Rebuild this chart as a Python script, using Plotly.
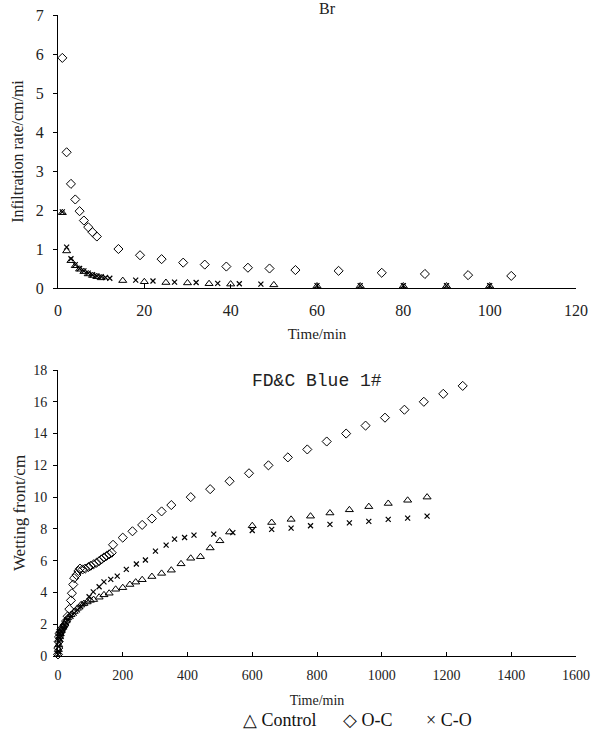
import plotly.graph_objects as go

# ---- Br (top panel) ----
br_t_control = [1, 2, 3, 4, 5, 6, 7, 8, 9, 10, 15, 20, 25, 30, 35, 40, 50, 60, 70, 80, 90, 100]
br_control = [1.93, 0.95, 0.70, 0.57, 0.48, 0.42, 0.36, 0.32, 0.29, 0.26, 0.19, 0.16, 0.14, 0.13,
              0.11, 0.10, 0.08, 0.05, 0.05, 0.05, 0.05, 0.05]
br_t_oc = [1, 2, 3, 4, 5, 6, 7, 8, 9, 14, 19, 24, 29, 34, 39, 44, 49, 55, 65, 75, 85, 95, 105]
br_oc = [5.90, 3.48, 2.67, 2.27, 1.97, 1.73, 1.56, 1.43, 1.32, 1.00, 0.84, 0.74, 0.65, 0.60,
         0.55, 0.52, 0.50, 0.46, 0.44, 0.39, 0.36, 0.33, 0.31]
br_t_co = [1, 2, 3, 4, 5, 6, 7, 8, 9, 10, 11, 12, 18, 22, 27, 32, 37, 42, 47, 60, 70, 80, 90, 100]
br_co = [1.95, 1.05, 0.75, 0.60, 0.50, 0.44, 0.38, 0.34, 0.31, 0.29, 0.27, 0.25, 0.20, 0.18,
         0.15, 0.14, 0.12, 0.11, 0.10, 0.06, 0.06, 0.06, 0.06, 0.06]

# ---- FD&C Blue 1# (bottom panel) ----
fd_t_control = [0, 1, 2, 3, 5, 7, 10, 15, 20, 25, 30, 40, 50, 60, 70, 80, 90, 100, 110, 127, 142,
                158, 178, 200, 222, 240, 260, 290, 320, 350, 380, 410, 440, 470, 500, 530, 600,
                660, 720, 780, 840, 900, 960, 1020, 1080, 1140]
fd_control = [0.1, 0.4, 0.7, 1.0, 1.2, 1.4, 1.6, 1.8, 2.0, 2.2, 2.4, 2.6, 2.8, 3.0, 3.2, 3.3, 3.4,
              3.5, 3.55, 3.7, 3.85, 3.95, 4.2, 4.3, 4.5, 4.65, 4.8, 5.0, 5.2, 5.4, 5.8, 6.15, 6.25,
              6.8, 7.25, 7.8, 8.2, 8.4, 8.6, 8.8, 9.0, 9.2, 9.4, 9.6, 9.8, 10.0]
fd_t_oc = [0, 1, 2, 3, 5, 7, 10, 15, 20, 25, 30, 35, 40, 43, 47, 50, 57, 63, 68, 76, 84, 94, 101,
           110, 119, 127, 134, 142, 150, 158, 166, 170, 200, 230, 260, 290, 320, 350, 410, 470,
           530, 590, 650, 710, 770, 830, 890, 950, 1010, 1070, 1130, 1190, 1250]
fd_oc = [0.1, 0.5, 0.9, 1.2, 1.4, 1.5, 1.65, 1.8, 1.95, 2.2, 2.5, 2.95, 3.5, 3.95, 4.5, 4.9, 5.1,
         5.35, 5.5, 5.45, 5.5, 5.6, 5.68, 5.77, 5.87, 5.97, 6.08, 6.2, 6.3, 6.4, 6.5, 7.0, 7.45,
         7.85, 8.25, 8.65, 9.1, 9.5, 10.0, 10.5, 11.0, 11.5, 12.0, 12.5, 13.0, 13.5, 14.0, 14.5,
         15.0, 15.5, 16.0, 16.5, 17.0]
fd_t_co = [0, 1, 2, 3, 5, 7, 10, 15, 20, 25, 30, 40, 50, 60, 70, 80, 96, 109, 127, 142, 163, 183,
           211, 242, 270, 301, 334, 360, 391, 420, 481, 540, 600, 660, 720, 780, 840, 900, 960,
           1020, 1080, 1140]
fd_co = [0.1, 0.3, 0.6, 0.9, 1.1, 1.3, 1.5, 1.7, 1.9, 2.1, 2.3, 2.5, 2.7, 2.9, 3.1, 3.3, 3.73,
         4.04, 4.36, 4.67, 4.82, 5.03, 5.45, 5.79, 6.04, 6.6, 6.98, 7.36, 7.46, 7.61, 7.67, 7.76,
         7.9, 7.97, 8.05, 8.2, 8.28, 8.38, 8.47, 8.6, 8.68, 8.8]

series_names = ["Control", "O-C", "C-O"]
legend_glyphs = ["△", "◇", "×"]
top_title = "Br"
bottom_title = "FD&C Blue 1#"
x_title = "Time/min"
top_y_title = "Infiltration rate/cm/mi"
bottom_y_title = "Wetting front/cm"

SERIF = "Liberation Serif, Times New Roman, serif"
MONO = "Liberation Mono, Courier New, monospace"
TXT = "#222"

sym = {"Control": dict(symbol="triangle-up-open", size=7, color="black", line=dict(width=1, color="black")),
       "O-C": dict(symbol="diamond-open", size=7, color="black", line=dict(width=1, color="black")),
       "C-O": dict(symbol="x-thin", size=5, color="black", line=dict(width=1.2, color="black"))}

fig = go.Figure()
for name, t, v in zip(series_names, [br_t_control, br_t_oc, br_t_co], [br_control, br_oc, br_co]):
    fig.add_trace(go.Scatter(x=t, y=v, mode="markers", name=name, marker=sym[name],
                             xaxis="x", yaxis="y", showlegend=False, cliponaxis=False))
for name, t, v in zip(series_names, [fd_t_control, fd_t_oc, fd_t_co], [fd_control, fd_oc, fd_co]):
    fig.add_trace(go.Scatter(x=t, y=v, mode="markers", name=name, marker=sym[name],
                             xaxis="x2", yaxis="y2", showlegend=False, cliponaxis=False))

axis_common = dict(showline=True, linecolor="black", linewidth=1, showgrid=False, zeroline=False,
                   ticklen=4, tickcolor="black", mirror=False, automargin=False)

# plot-area geometry (pixels) used to place the paper-anchored texts
L, R, T, B = 58, 16, 15, 84
W, H = 592 - L - R, 740 - T - B


def px(xp):
    return (xp - L) / W


def py(yp):
    return (740 - B - yp) / H


fig.update_layout(
    width=592, height=740,
    paper_bgcolor="white", plot_bgcolor="white",
    margin=dict(l=L, r=R, t=T, b=B),
    showlegend=False,
    xaxis=dict(axis_common, domain=[0, 1], range=[0, 120], dtick=20, ticks="inside",
               anchor="y", tickfont=dict(family=SERIF, size=16, color=TXT), ticklabelstandoff=8,
               title=dict(text=x_title, font=dict(family=SERIF, size=15, color=TXT), standoff=10)),
    yaxis=dict(axis_common, domain=[py(288), 1], range=[0, 7], dtick=1, ticks="outside",
               anchor="x", tickfont=dict(family=SERIF, size=16, color=TXT), ticklabelstandoff=6,
               title=dict(text=top_y_title, font=dict(family=SERIF, size=16, color=TXT), standoff=8)),
    xaxis2=dict(axis_common, domain=[0, 1], range=[0, 1600], dtick=200, ticks="inside",
                anchor="y2", tickfont=dict(family=SERIF, size=14, color=TXT), ticklabelstandoff=6,
                title=dict(text=x_title, font=dict(family=SERIF, size=14, color=TXT), standoff=13)),
    yaxis2=dict(axis_common, domain=[0, py(370)], range=[0, 18], dtick=2, ticks="outside",
                anchor="x2", tickfont=dict(family=SERIF, size=14, color=TXT), ticklabelstandoff=3,
                title=dict(text=bottom_y_title, font=dict(family=SERIF, size=17, color=TXT), standoff=3)),
)

annotations = [
    dict(text=top_title, xref="paper", yref="paper", x=px(327), y=py(9), xanchor="center",
         yanchor="middle", showarrow=False, font=dict(family=SERIF, size=16, color=TXT)),
    dict(text=bottom_title, xref="paper", yref="paper", x=px(317), y=py(381), xanchor="center",
         yanchor="middle", showarrow=False, font=dict(family=MONO, size=18, color=TXT)),
]
for glyph, name, left in zip(legend_glyphs, series_names, [241, 341, 424]):
    annotations.append(dict(text=f"{glyph} {name}", xref="paper", yref="paper", x=px(left), y=py(720),
                            xanchor="left", yanchor="middle", showarrow=False,
                            font=dict(family=SERIF, size=18, color="#111")))
fig.update_layout(annotations=annotations)

fig.write_html("out.html", config={"displayModeBar": False},
               post_script="document.body.style.margin='0';document.body.style.overflow='hidden';")
